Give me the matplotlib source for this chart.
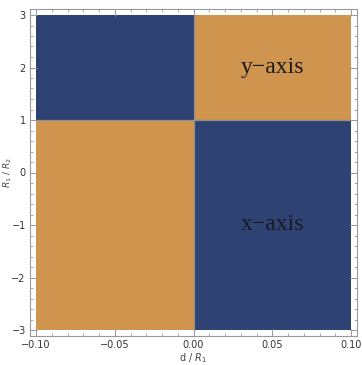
import numpy as np
import matplotlib
matplotlib.use('Agg')
import matplotlib.pyplot as plt
from matplotlib.colors import ListedColormap
from matplotlib.ticker import MultipleLocator

# --- region map: which axis is preferred, over d/R1 and R1/R2
d_edges = [-0.10, 0.00, 0.10]
r_edges = [-3, 1, 3]
# 0 = x-axis (blue), 1 = y-axis (orange); rows go bottom to top
region = [[1, 0],
          [0, 1]]

labels = ['y\u2212axis', 'x\u2212axis']
label_x = [0.05, 0.05]
label_y = [2.0, -1.0]

blue = '#2e4273'
orange = '#cf944d'

fig = plt.figure(figsize=(3.62, 3.65), dpi=100)
ax = fig.add_axes((30/362, 29/365, 327/362, 327/365))

ax.pcolormesh(d_edges, r_edges, np.array(region), cmap=ListedColormap([blue, orange]),
              vmin=0, vmax=1)

# thin grey boundaries between regions (inner edges only)
for x in d_edges[1:-1]:
    ax.plot([x, x], [r_edges[0], r_edges[-1]], color='#8f8f8f', lw=0.9)
for y in r_edges[1:-1]:
    ax.plot([d_edges[0], d_edges[-1]], [y, y], color='#8f8f8f', lw=0.9)

for t, x, y in zip(labels, label_x, label_y):
    ax.text(x, y, t, ha='center', va='center', fontsize=17,
            family='Liberation Serif', color='#1a1a1a')

padx = 0.2 * 6/315
pady = 6 * 6/315
ax.set_xlim(-0.10 - padx, 0.10 + padx)
ax.set_ylim(-3 - pady, 3 + pady)

ax.xaxis.set_major_locator(MultipleLocator(0.05))
ax.xaxis.set_minor_locator(MultipleLocator(0.01))
ax.yaxis.set_major_locator(MultipleLocator(1))
ax.yaxis.set_minor_locator(MultipleLocator(0.2))
ax.xaxis.set_major_formatter(plt.FuncFormatter(lambda v, p: f'{v:.2f}'.replace('-', '\u2212')))

ax.tick_params(which='both', direction='in', top=True, right=True,
               color='#999999', labelsize=7, labelcolor='#333333', pad=3)
ax.tick_params(which='major', length=5, width=0.7)
ax.tick_params(which='minor', length=2.5, width=0.6)
for s in ax.spines.values():
    s.set_color('#999999')
    s.set_linewidth(0.8)

ax.set_xlabel(r'd / $R_1$', fontsize=7, color='#444444', labelpad=1)
ax.set_ylabel(r'$R_1$ / $R_2$', fontsize=6.5, color='#444444')
ax.yaxis.set_label_coords(-0.05, 0.5)

fig.savefig('out.png', dpi=100)
